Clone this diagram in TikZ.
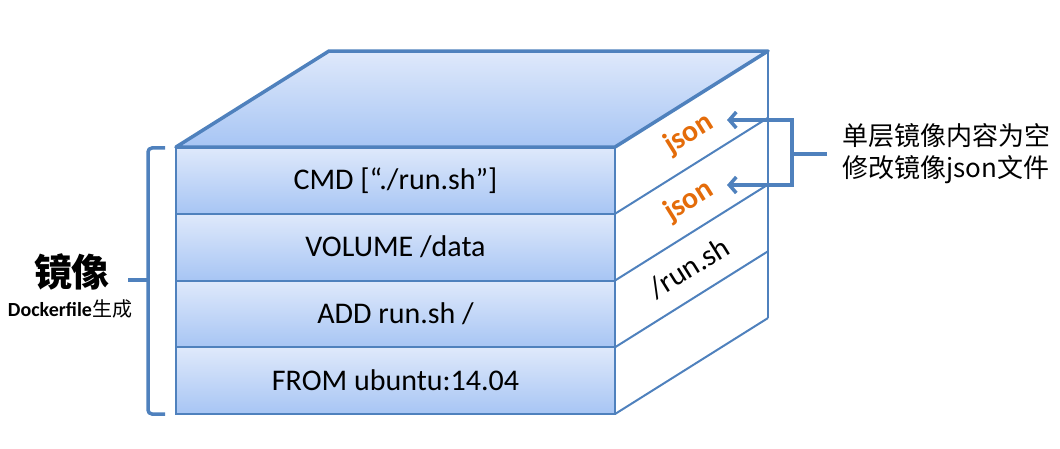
\documentclass[tikz,border=0pt]{standalone}
\usepackage{fontspec}
\setmainfont{Carlito}
\newfontfamily\cjk{Noto Sans CJK SC}
\usetikzlibrary{positioning,calc,arrows.meta}
\definecolor{edgeblue}{RGB}{79,129,189}
\definecolor{faceup}{RGB}{223,233,251}
\definecolor{facedown}{RGB}{167,197,244}
\definecolor{jsonorange}{RGB}{228,108,10}
\tikzset{
  layer/.style={draw=edgeblue, line width=2pt, top color=faceup, bottom color=facedown,
    minimum width=439pt, minimum height=66.75pt, outer sep=0pt, inner sep=0pt,
    font=\fontsize{30}{32}\selectfont},
  topface/.style={draw=edgeblue, line width=3.5pt, line join=round, top color=faceup, bottom color=facedown},
  sideline/.style={draw=edgeblue, line width=2pt},
  sidetext/.style={rotate=32, inner sep=1pt, font=\fontsize{30}{32}\selectfont},
  jsontext/.style={sidetext, text=jsonorange, font=\fontsize{30}{32}\selectfont\bfseries},
  arrowline/.style={draw=edgeblue, line width=3.5pt},
  tip/.tip={Straight Barb[length=7pt, width=16pt]}
}

\begin{document}
\begin{tikzpicture}[x=1pt, y=-1pt]
  \useasboundingbox (0,0) rectangle (1060,449);
  % front layers
  \node[layer] (cmd) at (395.5,180.4) {CMD [“./run.sh”]};
  \node[layer, below=0pt of cmd] (vol) {VOLUME /data};
  \node[layer, below=0pt of vol] (add) {ADD run.sh /};
  \node[layer, below=0pt of add] (from) {FROM ubuntu:14.04};
  % side face
  \draw[sideline] (cmd.south east) -- ++(153,-96);
  \draw[sideline] (vol.south east) -- ++(153,-96);
  \draw[sideline] (add.south east) -- ++(153,-96);
  \draw[sideline] (from.south east) -- ++(153,-96) coordinate (backb);
  % top face
  \draw[topface] (cmd.north west) -- ++(153,-96) -- ++(439,0) coordinate (backr)
    -- (cmd.north east) -- cycle;
  \draw[sideline] (backr) -- (backb);
  \node[jsontext] (jsoncmd) at ($(cmd.east)+(74,-46)$) {json};
  \node[jsontext] (jsonvol) at ($(vol.east)+(74,-46)$) {json};
  \node[sidetext] (runadd) at ($(add.east)+(74,-46)$) {/run.sh};
  % note with arrows
  \node[font=\cjk\fontsize{26}{32}\selectfont, align=left, anchor=west, inner xsep=15pt]
    (note) at (827,154) {单层镜像内容为空\\修改镜像json文件};
  \coordinate (tipcmd) at (727,120);
  \coordinate (tipvol) at (727,185);
  \coordinate (fork) at (792,154);
  \draw[arrowline] (note.west) -- (fork);
  \draw[arrowline, tip-tip] (tipcmd) -| (fork) |- (tipvol);
  % brace and label
  \draw[arrowline, rounded corners=4pt] (165,148) -- (148,148) -- (148,414) -- (165,414);
  \draw[arrowline] (148,280) -- (128,280);
  \node[font=\cjk\bfseries\fontsize{38}{40}\selectfont] (title) at (72,272) {镜像};
  \node[font=\fontsize{20}{22}\selectfont] (source) at (70,309) {\textbf{Dockerfile}{\cjk 生成}};
\end{tikzpicture}
\end{document}
